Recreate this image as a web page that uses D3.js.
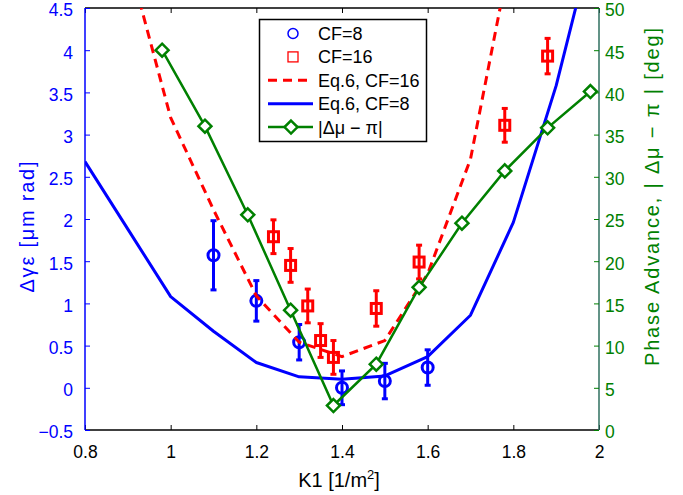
<!DOCTYPE html>
<html>
<head>
<meta charset="utf-8">
<script src="https://cdn.jsdelivr.net/npm/d3@7"></script>
<style>
  html, body { margin: 0; padding: 0; background: #fff; }
  svg { display: block; font-family: "Liberation Sans", Arial, Helvetica, sans-serif; }
</style>
</head>
<body>
<svg id="chart" width="683" height="495"></svg>
<script>
// Measured emittance growth (two chopping factors)
const cf8K1   = [1.1, 1.2, 1.3, 1.4, 1.5, 1.6];
const cf8Val  = [1.57, 1.03, 0.54, 0.00, 0.08, 0.24];
const cf8Err  = [0.41, 0.24, 0.21, 0.20, 0.21, 0.21];

const cf16K1  = [1.24, 1.28, 1.32, 1.35, 1.38, 1.48, 1.58, 1.78, 1.88];
const cf16Val = [1.79, 1.45, 0.97, 0.56, 0.36, 0.94, 1.49, 3.11, 3.93];
const cf16Err = [0.20, 0.20, 0.20, 0.20, 0.20, 0.21, 0.20, 0.20, 0.21];

// Eq.6 predictions
const eq8K1   = [0.8, 0.9, 1.0, 1.1, 1.2, 1.3, 1.4, 1.5, 1.6, 1.7, 1.8, 1.9, 2.0];
const eq8Val  = [2.68, 1.88, 1.08, 0.67, 0.30, 0.13, 0.10, 0.14, 0.37, 0.86, 1.96, 3.58, 5.6];
const eq16K1  = [0.9, 1.0, 1.1, 1.2, 1.3, 1.4, 1.5, 1.6, 1.7, 1.8];
const eq16Val = [5.1, 3.2, 2.11, 1.09, 0.54, 0.37, 0.56, 1.35, 2.71, 5.3];

// Phase advance |Δμ − π| in degrees (right axis)
const phaseK1  = [0.98, 1.08, 1.18, 1.28, 1.38, 1.48, 1.58, 1.68, 1.78, 1.88, 1.98];
const phaseDeg = [45.0, 36.0, 25.5, 14.2, 2.9, 7.8, 16.9, 24.5, 30.7, 35.8, 40.1];

// Tick values
const xTicks = [0.8, 1.0, 1.2, 1.4, 1.6, 1.8, 2.0];
const yLeftTicks = [-0.5, 0, 0.5, 1, 1.5, 2, 2.5, 3, 3.5, 4, 4.5];
const yRightTicks = [0, 5, 10, 15, 20, 25, 30, 35, 40, 45, 50];

const BLUE = "#0000ff", RED = "#ff0000", GREEN = "#008000";
const FS = 17.5;

const svg = d3.select("#chart");
const plot = { left: 85, right: 599, top: 8, bottom: 430 };

const x = d3.scaleLinear().domain([0.8, 2.0]).range([plot.left, plot.right]);
const yL = d3.scaleLinear().domain([-0.5, 4.5]).range([plot.bottom, plot.top]);
const yR = d3.scaleLinear().domain([0, 50]).range([plot.bottom, plot.top]);

svg.append("defs").append("clipPath").attr("id", "plotClip")
  .append("rect")
  .attr("x", plot.left).attr("y", plot.top)
  .attr("width", plot.right - plot.left).attr("height", plot.bottom - plot.top);

const fmtL = d => (d < 0 ? "\u2212" : "") + d3.format("")(Math.abs(d));
const fmtX = d => d3.format("")(+d.toFixed(1));

// Axes (ticks pointing inward)
const bottomAxis = d3.axisBottom(x).tickValues(xTicks).tickSize(-5).tickPadding(16).tickFormat(fmtX);
const topAxis = d3.axisTop(x).tickValues(xTicks).tickSize(-5).tickFormat("");
const leftAxis = d3.axisLeft(yL).tickValues(yLeftTicks).tickSize(-5).tickPadding(12).tickFormat(fmtL);
const rightAxis = d3.axisRight(yR).tickValues(yRightTicks).tickSize(-5).tickPadding(6);

function styleAxis(g, lineColor, textColor) {
  g.selectAll(".domain").attr("stroke", lineColor).attr("stroke-width", 1.5);
  g.selectAll(".tick line").attr("stroke", lineColor).attr("stroke-width", 1);
  g.selectAll(".tick text").attr("fill", textColor)
    .style("font-size", FS + "px").style("font-family", "'Liberation Sans', Arial, sans-serif");
}

const gTop = svg.append("g").attr("transform", `translate(0,${plot.top})`).call(topAxis);
styleAxis(gTop, "#000", "#000");
gTop.select(".domain").attr("d", `M${plot.left},0H${plot.right}`);

const gBottom = svg.append("g").attr("transform", `translate(0,${plot.bottom})`).call(bottomAxis);
styleAxis(gBottom, "#000", "#000");
gBottom.select(".domain").attr("d", `M${plot.left},0H${plot.right}`);

const gRight = svg.append("g").attr("transform", `translate(${plot.right},0)`).call(rightAxis);
styleAxis(gRight, "#2f6f5f", GREEN);
gRight.selectAll(".tick line").attr("stroke", GREEN);
gRight.selectAll(".tick text").attr("dy", "0.45em");
gRight.select(".domain").attr("d", `M0,${plot.top}V${plot.bottom}`);

const gLeft = svg.append("g").attr("transform", `translate(${plot.left},0)`).call(leftAxis);
styleAxis(gLeft, BLUE, BLUE);
gLeft.selectAll(".tick text").attr("dy", "0.45em");
gLeft.select(".domain").attr("d", `M0,${plot.top}V${plot.bottom}`);

// Axis titles
svg.append("text")
  .attr("x", 339).attr("y", 487).attr("text-anchor", "middle")
  .style("font-size", "20px").attr("fill", "#000")
  .call(t => {
    t.append("tspan").text("K1 [1/m");
    t.append("tspan").attr("dy", -8).style("font-size", "13px").text("2");
    t.append("tspan").attr("dy", 8).text("]");
  });

svg.append("text")
  .attr("transform", "translate(34,227) rotate(-90)")
  .attr("text-anchor", "middle").attr("fill", BLUE)
  .style("font-size", "20px")
  .attr("textLength", 131).attr("lengthAdjust", "spacing")
  .text("\u0394\u03b3\u03b5 [\u03bcm rad]");

svg.append("text")
  .attr("transform", "translate(659,197) rotate(-90)")
  .attr("text-anchor", "middle").attr("fill", GREEN)
  .style("font-size", "20px")
  .attr("textLength", 338).attr("lengthAdjust", "spacing")
  .text("Phase Advance, | \u0394\u03bc \u2212 \u03c0 | [deg]");

// Plot area content
const area = svg.append("g").attr("clip-path", "url(#plotClip)");

function errorBars(k1, val, err, color) {
  const g = area.append("g").attr("stroke", color).attr("stroke-width", 3).attr("fill", "none");
  const cap = 3;
  k1.forEach((k, i) => {
    const cx = x(k), y1 = yL(val[i] + err[i]), y2 = yL(val[i] - err[i]);
    g.append("line").attr("x1", cx).attr("x2", cx).attr("y1", y1).attr("y2", y2);
    g.append("line").attr("x1", cx - cap).attr("x2", cx + cap).attr("y1", y1).attr("y2", y1);
    g.append("line").attr("x1", cx - cap).attr("x2", cx + cap).attr("y1", y2).attr("y2", y2);
  });
  return g;
}

// CF=8 measurements
errorBars(cf8K1, cf8Val, cf8Err, BLUE)
  .selectAll("circle.m").data(cf8K1).join("circle")
  .attr("class", "m")
  .attr("cx", d => x(d)).attr("cy", (d, i) => yL(cf8Val[i])).attr("r", 5.5);

// CF=16 measurements
errorBars(cf16K1, cf16Val, cf16Err, RED)
  .selectAll("rect.m").data(cf16K1).join("rect")
  .attr("class", "m")
  .attr("x", d => x(d) - 5).attr("y", (d, i) => yL(cf16Val[i]) - 5)
  .attr("width", 10).attr("height", 10);

const lineL = d3.line().x(d => x(d[0])).y(d => yL(d[1]));

// Eq.6, CF=16
area.append("path")
  .datum(eq16K1.map((k, i) => [k, eq16Val[i]]))
  .attr("d", lineL).attr("fill", "none")
  .attr("stroke", RED).attr("stroke-width", 3).attr("stroke-dasharray", "9,6");

// Eq.6, CF=8
area.append("path")
  .datum(eq8K1.map((k, i) => [k, eq8Val[i]]))
  .attr("d", lineL).attr("fill", "none")
  .attr("stroke", BLUE).attr("stroke-width", 3).attr("stroke-linejoin", "round");

// Phase advance curve
const linePhase = d3.line().x(d => x(d[0])).y(d => yR(d[1]));
area.append("path")
  .datum(phaseK1.map((k, i) => [k, phaseDeg[i]]))
  .attr("d", linePhase).attr("fill", "none")
  .attr("stroke", GREEN).attr("stroke-width", 2.5);

const diamond = (cx, cy, s) => `M${cx},${cy - s}L${cx + s},${cy}L${cx},${cy + s}L${cx - s},${cy}Z`;
svg.append("g").selectAll("path")
  .data(phaseK1).join("path")
  .attr("d", (d, i) => diamond(x(d), yR(phaseDeg[i]), 6.5))
  .attr("fill", "#fff").attr("stroke", GREEN).attr("stroke-width", 2.5);

// Legend
const lg = svg.append("g");
lg.append("rect").attr("x", 259.5).attr("y", 19.5).attr("width", 167).attr("height", 122)
  .attr("fill", "#fff").attr("stroke", "#000").attr("stroke-width", 1.5);

const legendRows = [
  { label: "CF=8", kind: "circle", color: BLUE },
  { label: "CF=16", kind: "square", color: RED },
  { label: "Eq.6, CF=16", kind: "dash", color: RED },
  { label: "Eq.6, CF=8", kind: "line", color: BLUE },
  { label: "|\u0394\u03bc \u2212 \u03c0|", kind: "diamond", color: GREEN }
];
const rowY = i => 33.5 + i * 23.4;
legendRows.forEach((r, i) => {
  const cy = rowY(i);
  if (r.kind === "circle") {
    lg.append("circle").attr("cx", 293).attr("cy", cy).attr("r", 5)
      .attr("fill", "none").attr("stroke", r.color).attr("stroke-width", 1.5);
  } else if (r.kind === "square") {
    lg.append("rect").attr("x", 288).attr("y", cy - 5).attr("width", 10).attr("height", 10)
      .attr("fill", "none").attr("stroke", r.color).attr("stroke-width", 1.3);
  } else {
    lg.append("line").attr("x1", 268).attr("x2", 313).attr("y1", cy).attr("y2", cy)
      .attr("stroke", r.color).attr("stroke-width", r.kind === "diamond" ? 2.5 : 3)
      .attr("stroke-dasharray", r.kind === "dash" ? "9,6" : null);
    if (r.kind === "diamond") {
      lg.append("path").attr("d", diamond(291, cy, 6.5))
        .attr("fill", "#fff").attr("stroke", r.color).attr("stroke-width", 2.5);
    }
  }
  lg.append("text").attr("x", 318).attr("y", cy + 6.5)
    .style("font-size", "18px").attr("fill", "#000").text(r.label);
});
</script>
</body>
</html>
